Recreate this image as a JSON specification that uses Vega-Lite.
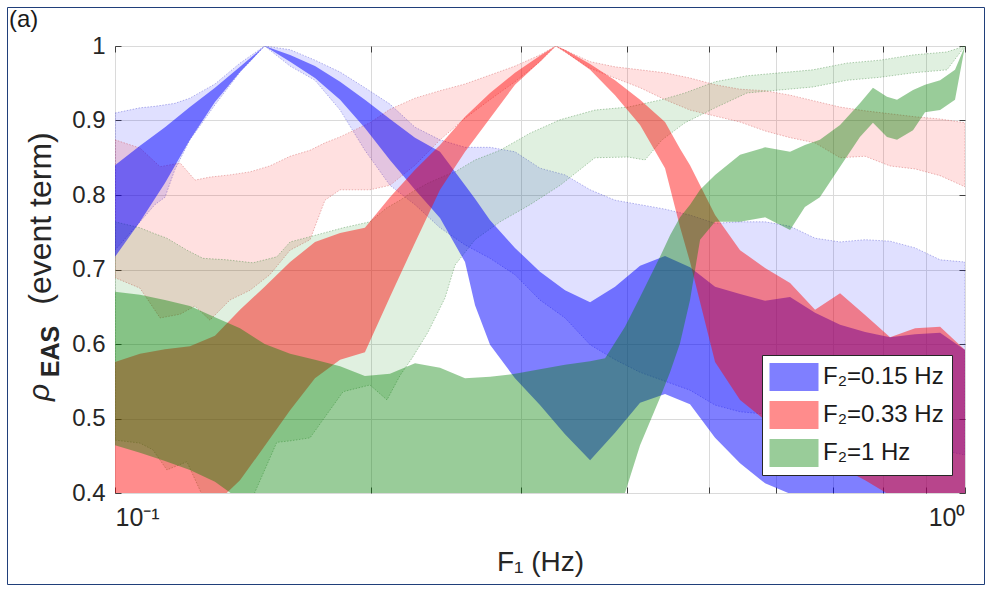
{
  "$schema": "https://vega.github.io/schema/vega-lite/v6.json",
  "width": 850,
  "height": 447,
  "autosize": {"type": "none"},
  "padding": {"left": 115, "top": 46, "right": 22, "bottom": 96},
  "background": "white",
  "config": {
    "font": "Liberation Sans",
    "view": {"stroke": "#8c8c8c", "strokeWidth": 1},
    "legend": {"gradientHorizontalMaxLength": 1200, "gradientHorizontalMinLength": 10},
    "axis": {
      "labelFont": "Liberation Sans",
      "titleFont": "Liberation Sans",
      "labelColor": "#262626",
      "titleColor": "#262626",
      "tickColor": "#404040",
      "domain": false,
      "gridColor": "#dadada",
      "gridWidth": 1,
      "labelFontSize": 24,
      "titleFontWeight": "normal"
    }
  },
  "title": {
    "text": "(a)",
    "anchor": "start",
    "frame": "group",
    "orient": "top",
    "fontSize": 24,
    "fontWeight": "normal",
    "color": "#1a1a1a",
    "dx": -106,
    "dy": 44,
    "offset": 0,
    "baseline": "alphabetic"
  },
  "datasets": {
    "d": [
      {"b":"SB","f":0.1,"hi":0.84,"lo":0.717},
      {"b":"SB","f":0.107,"hi":0.866,"lo":0.764},
      {"b":"SB","f":0.1145,"hi":0.891,"lo":0.816},
      {"b":"SB","f":0.1225,"hi":0.918,"lo":0.874},
      {"b":"SB","f":0.1311,"hi":0.944,"lo":0.925},
      {"b":"SB","f":0.1403,"hi":0.972,"lo":0.965},
      {"b":"SB","f":0.15,"hi":1,"lo":1},
      {"b":"SB","f":0.1607,"hi":0.988,"lo":0.979},
      {"b":"SB","f":0.1719,"hi":0.973,"lo":0.957},
      {"b":"SB","f":0.184,"hi":0.952,"lo":0.928},
      {"b":"SB","f":0.1968,"hi":0.928,"lo":0.89},
      {"b":"SB","f":0.2106,"hi":0.902,"lo":0.847},
      {"b":"SB","f":0.2254,"hi":0.877,"lo":0.807},
      {"b":"SB","f":0.2412,"hi":0.858,"lo":0.769},
      {"b":"SB","f":0.2581,"hi":0.813,"lo":0.71},
      {"b":"SB","f":0.2652,"hi":0.795,"lo":0.652},
      {"b":"SB","f":0.2762,"hi":0.766,"lo":0.599},
      {"b":"SB","f":0.2955,"hi":0.729,"lo":0.554},
      {"b":"SB","f":0.3162,"hi":0.697,"lo":0.518},
      {"b":"SB","f":0.3384,"hi":0.672,"lo":0.479},
      {"b":"SB","f":0.3622,"hi":0.656,"lo":0.444},
      {"b":"SB","f":0.3875,"hi":0.677,"lo":0.481},
      {"b":"SB","f":0.4147,"hi":0.705,"lo":0.521},
      {"b":"SB","f":0.4437,"hi":0.718,"lo":0.533},
      {"b":"SB","f":0.4748,"hi":0.703,"lo":0.519},
      {"b":"SB","f":0.5081,"hi":0.677,"lo":0.474},
      {"b":"SB","f":0.5437,"hi":0.667,"lo":0.44},
      {"b":"SB","f":0.5818,"hi":0.658,"lo":0.413},
      {"b":"SB","f":0.6226,"hi":0.663,"lo":0.399},
      {"b":"SB","f":0.6662,"hi":0.642,"lo":0.391},
      {"b":"SB","f":0.7129,"hi":0.626,"lo":0.384},
      {"b":"SB","f":0.7629,"hi":0.616,"lo":0.377},
      {"b":"SB","f":0.8163,"hi":0.609,"lo":0.37},
      {"b":"SB","f":0.8736,"hi":0.613,"lo":0.366},
      {"b":"SB","f":0.9348,"hi":0.615,"lo":0.364},
      {"b":"SB","f":1,"hi":0.592,"lo":0.357},

      {"b":"FB","f":0.1,"hi":0.91,"lo":0.726},
      {"b":"FB","f":0.107,"hi":0.917,"lo":0.764},
      {"b":"FB","f":0.1114,"hi":0.919,"lo":0.787},
      {"b":"FB","f":0.1145,"hi":0.921,"lo":0.797},
      {"b":"FB","f":0.1176,"hi":0.923,"lo":0.834},
      {"b":"FB","f":0.1225,"hi":0.93,"lo":0.874},
      {"b":"FB","f":0.1311,"hi":0.949,"lo":0.921},
      {"b":"FB","f":0.1403,"hi":0.977,"lo":0.965},
      {"b":"FB","f":0.15,"hi":1,"lo":1},
      {"b":"FB","f":0.1607,"hi":0.995,"lo":0.973},
      {"b":"FB","f":0.1719,"hi":0.981,"lo":0.954},
      {"b":"FB","f":0.184,"hi":0.965,"lo":0.914},
      {"b":"FB","f":0.1968,"hi":0.944,"lo":0.86},
      {"b":"FB","f":0.2106,"hi":0.922,"lo":0.813},
      {"b":"FB","f":0.2254,"hi":0.891,"lo":0.787},
      {"b":"FB","f":0.2412,"hi":0.874,"lo":0.756},
      {"b":"FB","f":0.2581,"hi":0.864,"lo":0.733},
      {"b":"FB","f":0.2762,"hi":0.864,"lo":0.715},
      {"b":"FB","f":0.2955,"hi":0.858,"lo":0.693},
      {"b":"FB","f":0.3162,"hi":0.836,"lo":0.659},
      {"b":"FB","f":0.3384,"hi":0.827,"lo":0.635},
      {"b":"FB","f":0.3622,"hi":0.807,"lo":0.599},
      {"b":"FB","f":0.3875,"hi":0.793,"lo":0.579},
      {"b":"FB","f":0.4147,"hi":0.787,"lo":0.562},
      {"b":"FB","f":0.4437,"hi":0.781,"lo":0.55},
      {"b":"FB","f":0.4748,"hi":0.773,"lo":0.538},
      {"b":"FB","f":0.5081,"hi":0.762,"lo":0.518},
      {"b":"FB","f":0.5437,"hi":0.764,"lo":0.509},
      {"b":"FB","f":0.5818,"hi":0.764,"lo":0.506},
      {"b":"FB","f":0.6226,"hi":0.758,"lo":0.498},
      {"b":"FB","f":0.6662,"hi":0.742,"lo":0.487},
      {"b":"FB","f":0.7129,"hi":0.737,"lo":0.482},
      {"b":"FB","f":0.7629,"hi":0.74,"lo":0.474},
      {"b":"FB","f":0.8163,"hi":0.738,"lo":0.468},
      {"b":"FB","f":0.8736,"hi":0.729,"lo":0.463},
      {"b":"FB","f":0.9348,"hi":0.713,"lo":0.458},
      {"b":"FB","f":1,"hi":0.71,"lo":0.451},

      {"b":"SR","f":0.1,"hi":0.576,"lo":0.35},
      {"b":"SR","f":0.107,"hi":0.587,"lo":0.355},
      {"b":"SR","f":0.1145,"hi":0.593,"lo":0.36},
      {"b":"SR","f":0.1225,"hi":0.597,"lo":0.37},
      {"b":"SR","f":0.1311,"hi":0.611,"lo":0.385},
      {"b":"SR","f":0.1403,"hi":0.646,"lo":0.417},
      {"b":"SR","f":0.15,"hi":0.677,"lo":0.463},
      {"b":"SR","f":0.1607,"hi":0.71,"lo":0.511},
      {"b":"SR","f":0.1719,"hi":0.737,"lo":0.554},
      {"b":"SR","f":0.184,"hi":0.749,"lo":0.579},
      {"b":"SR","f":0.1968,"hi":0.756,"lo":0.589},
      {"b":"SR","f":0.2106,"hi":0.797,"lo":0.663},
      {"b":"SR","f":0.2254,"hi":0.834,"lo":0.736},
      {"b":"SR","f":0.2412,"hi":0.867,"lo":0.807},
      {"b":"SR","f":0.2581,"hi":0.905,"lo":0.858},
      {"b":"SR","f":0.2762,"hi":0.937,"lo":0.903},
      {"b":"SR","f":0.2955,"hi":0.964,"lo":0.948},
      {"b":"SR","f":0.3162,"hi":0.987,"lo":0.979},
      {"b":"SR","f":0.33,"hi":1,"lo":1},
      {"b":"SR","f":0.3384,"hi":0.995,"lo":0.992},
      {"b":"SR","f":0.3622,"hi":0.976,"lo":0.968},
      {"b":"SR","f":0.3875,"hi":0.954,"lo":0.934},
      {"b":"SR","f":0.4147,"hi":0.928,"lo":0.894},
      {"b":"SR","f":0.4437,"hi":0.898,"lo":0.836},
      {"b":"SR","f":0.4621,"hi":0.862,"lo":0.757},
      {"b":"SR","f":0.4748,"hi":0.84,"lo":0.71},
      {"b":"SR","f":0.5081,"hi":0.773,"lo":0.576},
      {"b":"SR","f":0.5437,"hi":0.726,"lo":0.525},
      {"b":"SR","f":0.5818,"hi":0.702,"lo":0.498},
      {"b":"SR","f":0.6226,"hi":0.682,"lo":0.478},
      {"b":"SR","f":0.6662,"hi":0.646,"lo":0.455},
      {"b":"SR","f":0.7129,"hi":0.668,"lo":0.435},
      {"b":"SR","f":0.7629,"hi":0.639,"lo":0.417},
      {"b":"SR","f":0.8163,"hi":0.609,"lo":0.397},
      {"b":"SR","f":0.8736,"hi":0.621,"lo":0.384},
      {"b":"SR","f":0.9348,"hi":0.623,"lo":0.374},
      {"b":"SR","f":1,"hi":0.592,"lo":0.364},

      {"b":"FR","f":0.1,"hi":0.874,"lo":0.689},
      {"b":"FR","f":0.107,"hi":0.863,"lo":0.675},
      {"b":"FR","f":0.113,"hi":0.838,"lo":0.635},
      {"b":"FR","f":0.1193,"hi":0.843,"lo":0.64},
      {"b":"FR","f":0.1242,"hi":0.82,"lo":0.651},
      {"b":"FR","f":0.1293,"hi":0.824,"lo":0.632},
      {"b":"FR","f":0.1365,"hi":0.827,"lo":0.659},
      {"b":"FR","f":0.1441,"hi":0.831,"lo":0.672},
      {"b":"FR","f":0.1521,"hi":0.839,"lo":0.693},
      {"b":"FR","f":0.1607,"hi":0.852,"lo":0.726},
      {"b":"FR","f":0.1696,"hi":0.86,"lo":0.74},
      {"b":"FR","f":0.1766,"hi":0.87,"lo":0.793},
      {"b":"FR","f":0.184,"hi":0.878,"lo":0.807},
      {"b":"FR","f":0.1995,"hi":0.897,"lo":0.807},
      {"b":"FR","f":0.2106,"hi":0.915,"lo":0.813},
      {"b":"FR","f":0.2254,"hi":0.93,"lo":0.84},
      {"b":"FR","f":0.2412,"hi":0.94,"lo":0.874},
      {"b":"FR","f":0.2581,"hi":0.949,"lo":0.903},
      {"b":"FR","f":0.2762,"hi":0.961,"lo":0.928},
      {"b":"FR","f":0.2955,"hi":0.973,"lo":0.952},
      {"b":"FR","f":0.3162,"hi":0.988,"lo":0.979},
      {"b":"FR","f":0.33,"hi":1,"lo":1},
      {"b":"FR","f":0.3622,"hi":0.979,"lo":0.97},
      {"b":"FR","f":0.3875,"hi":0.972,"lo":0.957},
      {"b":"FR","f":0.4147,"hi":0.968,"lo":0.944},
      {"b":"FR","f":0.4437,"hi":0.964,"lo":0.928},
      {"b":"FR","f":0.4748,"hi":0.957,"lo":0.914},
      {"b":"FR","f":0.5081,"hi":0.948,"lo":0.906},
      {"b":"FR","f":0.5437,"hi":0.942,"lo":0.898},
      {"b":"FR","f":0.5818,"hi":0.94,"lo":0.886},
      {"b":"FR","f":0.6226,"hi":0.934,"lo":0.877},
      {"b":"FR","f":0.6662,"hi":0.926,"lo":0.87},
      {"b":"FR","f":0.7129,"hi":0.918,"lo":0.85},
      {"b":"FR","f":0.7629,"hi":0.913,"lo":0.852},
      {"b":"FR","f":0.8163,"hi":0.909,"lo":0.839},
      {"b":"FR","f":0.8736,"hi":0.905,"lo":0.835},
      {"b":"FR","f":0.9348,"hi":0.902,"lo":0.826},
      {"b":"FR","f":1,"hi":0.897,"lo":0.811},

      {"b":"SG","f":0.1,"hi":0.67,"lo":0.464},
      {"b":"SG","f":0.107,"hi":0.666,"lo":0.454},
      {"b":"SG","f":0.1145,"hi":0.659,"lo":0.443},
      {"b":"SG","f":0.1225,"hi":0.651,"lo":0.431},
      {"b":"SG","f":0.1311,"hi":0.636,"lo":0.415},
      {"b":"SG","f":0.1403,"hi":0.621,"lo":0.391},
      {"b":"SG","f":0.15,"hi":0.6,"lo":0.37},
      {"b":"SG","f":0.1607,"hi":0.587,"lo":0.35},
      {"b":"SG","f":0.1719,"hi":0.579,"lo":0.34},
      {"b":"SG","f":0.184,"hi":0.57,"lo":0.33},
      {"b":"SG","f":0.1968,"hi":0.557,"lo":0.33},
      {"b":"SG","f":0.2106,"hi":0.56,"lo":0.33},
      {"b":"SG","f":0.2254,"hi":0.574,"lo":0.33},
      {"b":"SG","f":0.2412,"hi":0.568,"lo":0.33},
      {"b":"SG","f":0.2581,"hi":0.554,"lo":0.33},
      {"b":"SG","f":0.2762,"hi":0.556,"lo":0.33},
      {"b":"SG","f":0.2955,"hi":0.56,"lo":0.33},
      {"b":"SG","f":0.3162,"hi":0.566,"lo":0.34},
      {"b":"SG","f":0.3384,"hi":0.572,"lo":0.35},
      {"b":"SG","f":0.3622,"hi":0.577,"lo":0.37},
      {"b":"SG","f":0.3772,"hi":0.581,"lo":0.38},
      {"b":"SG","f":0.3981,"hi":0.623,"lo":0.4},
      {"b":"SG","f":0.4147,"hi":0.663,"lo":0.464},
      {"b":"SG","f":0.4377,"hi":0.717,"lo":0.528},
      {"b":"SG","f":0.4498,"hi":0.746,"lo":0.562},
      {"b":"SG","f":0.4621,"hi":0.77,"lo":0.601},
      {"b":"SG","f":0.4748,"hi":0.787,"lo":0.659},
      {"b":"SG","f":0.4879,"hi":0.807,"lo":0.74},
      {"b":"SG","f":0.5081,"hi":0.827,"lo":0.764},
      {"b":"SG","f":0.5437,"hi":0.854,"lo":0.764},
      {"b":"SG","f":0.5818,"hi":0.864,"lo":0.77},
      {"b":"SG","f":0.6226,"hi":0.858,"lo":0.753},
      {"b":"SG","f":0.6481,"hi":0.867,"lo":0.784},
      {"b":"SG","f":0.6749,"hi":0.874,"lo":0.797},
      {"b":"SG","f":0.7129,"hi":0.894,"lo":0.838},
      {"b":"SG","f":0.7523,"hi":0.923,"lo":0.878},
      {"b":"SG","f":0.7793,"hi":0.944,"lo":0.897},
      {"b":"SG","f":0.8095,"hi":0.932,"lo":0.878},
      {"b":"SG","f":0.8318,"hi":0.928,"lo":0.874},
      {"b":"SG","f":0.8687,"hi":0.941,"lo":0.887},
      {"b":"SG","f":0.8974,"hi":0.948,"lo":0.911},
      {"b":"SG","f":0.9348,"hi":0.954,"lo":0.914},
      {"b":"SG","f":0.9733,"hi":0.968,"lo":0.928},
      {"b":"SG","f":1,"hi":1,"lo":1},

      {"b":"FG","f":0.1,"hi":0.764,"lo":0.471},
      {"b":"FG","f":0.107,"hi":0.756,"lo":0.467},
      {"b":"FG","f":0.1108,"hi":0.749,"lo":0.458},
      {"b":"FG","f":0.1151,"hi":0.742,"lo":0.431},
      {"b":"FG","f":0.1215,"hi":0.726,"lo":0.442},
      {"b":"FG","f":0.1269,"hi":0.715,"lo":0.395},
      {"b":"FG","f":0.1354,"hi":0.713,"lo":0.385},
      {"b":"FG","f":0.1453,"hi":0.709,"lo":0.395},
      {"b":"FG","f":0.155,"hi":0.717,"lo":0.468},
      {"b":"FG","f":0.1607,"hi":0.737,"lo":0.47},
      {"b":"FG","f":0.1696,"hi":0.744,"lo":0.474},
      {"b":"FG","f":0.1855,"hi":0.756,"lo":0.536},
      {"b":"FG","f":0.1995,"hi":0.764,"lo":0.545},
      {"b":"FG","f":0.2089,"hi":0.783,"lo":0.525},
      {"b":"FG","f":0.2165,"hi":0.793,"lo":0.558},
      {"b":"FG","f":0.2236,"hi":0.804,"lo":0.581},
      {"b":"FG","f":0.2335,"hi":0.816,"lo":0.616},
      {"b":"FG","f":0.2445,"hi":0.826,"lo":0.662},
      {"b":"FG","f":0.2512,"hi":0.831,"lo":0.706},
      {"b":"FG","f":0.2652,"hi":0.847,"lo":0.74},
      {"b":"FG","f":0.2838,"hi":0.86,"lo":0.764},
      {"b":"FG","f":0.3078,"hi":0.883,"lo":0.787},
      {"b":"FG","f":0.3339,"hi":0.901,"lo":0.813},
      {"b":"FG","f":0.367,"hi":0.914,"lo":0.85},
      {"b":"FG","f":0.4014,"hi":0.918,"lo":0.851},
      {"b":"FG","f":0.4203,"hi":0.923,"lo":0.847},
      {"b":"FG","f":0.4401,"hi":0.928,"lo":0.874},
      {"b":"FG","f":0.4684,"hi":0.937,"lo":0.897},
      {"b":"FG","f":0.5081,"hi":0.952,"lo":0.917},
      {"b":"FG","f":0.5541,"hi":0.96,"lo":0.937},
      {"b":"FG","f":0.6058,"hi":0.964,"lo":0.941},
      {"b":"FG","f":0.6622,"hi":0.968,"lo":0.945},
      {"b":"FG","f":0.7262,"hi":0.977,"lo":0.954},
      {"b":"FG","f":0.7943,"hi":0.981,"lo":0.958},
      {"b":"FG","f":0.8687,"hi":0.988,"lo":0.964},
      {"b":"FG","f":0.9524,"hi":0.992,"lo":0.968},
      {"b":"FG","f":1,"hi":1,"lo":1}
    ]
  },
  "data": {"name": "d"},
  "layer": [
    {
      "transform": [{"filter": "datum.b == 'FB'"}],
      "mark": {"type": "area", "clip": true, "fill": "rgba(0,0,255,0.12)", "stroke": "rgba(50,50,200,0.45)", "strokeWidth": 0.8, "strokeDash": [1.5, 1.5]},
      "encoding": {
        "x": {"field": "f", "type": "quantitative", "scale": {"type": "log", "domain": [0.1, 1], "nice": false},
          "axis": {"orient": "bottom", "values": [0.1,0.2,0.3,0.4,0.5,0.6,0.7,0.8,0.9,1],
            "labelExpr": "datum.value == 0.1 ? '10⁻¹' : (datum.value == 1 ? '10⁰' : '')",
            "grid": true, "tickSize": -6, "labelPadding": 18, "labelOverlap": false, "labelFontSize": 25,
            "title": "F₁ (Hz)", "titleFontSize": 28, "titleX": 425, "titleY": 77, "titleBaseline": "alphabetic"}},
        "y": {"field": "hi", "type": "quantitative", "scale": {"domain": [0.4, 1], "nice": false, "zero": false},
          "axis": {"orient": "left", "values": [0.4,0.5,0.6,0.7,0.8,0.9,1],
            "labelExpr": "datum.value == 1 ? '1' : format(datum.value, '.1f')",
            "grid": true, "tickSize": -6, "labelPadding": 16, "labelOverlap": false,
            "title": "(event term)", "titleFontSize": 32, "titleX": -65, "titleY": 172, "titleAngle": 270, "titleBaseline": "alphabetic"}},
        "y2": {"field": "lo"}
      }
    },
    {
      "transform": [{"filter": "datum.b == 'FR'"}],
      "mark": {"type": "area", "clip": true, "fill": "rgba(255,0,0,0.12)", "stroke": "rgba(200,60,60,0.45)", "strokeWidth": 0.8, "strokeDash": [1.5, 1.5]},
      "encoding": {
        "x": {"field": "f", "type": "quantitative", "scale": {"type": "log", "domain": [0.1, 1], "nice": false},
          "axis": {"orient": "top", "values": [0.1,0.2,0.3,0.4,0.5,0.6,0.7,0.8,0.9,1], "labels": false, "grid": false, "tickSize": -6, "title": null}},
        "y": {"field": "hi", "type": "quantitative", "scale": {"domain": [0.4, 1], "nice": false, "zero": false},
          "axis": {"orient": "right", "values": [0.4,0.5,0.6,0.7,0.8,0.9,1], "labels": false, "grid": false, "tickSize": -6, "title": null}},
        "y2": {"field": "lo"}
      }
    },
    {
      "transform": [{"filter": "datum.b == 'FG'"}],
      "mark": {"type": "area", "clip": true, "fill": "rgba(0,128,0,0.12)", "stroke": "rgba(40,120,40,0.45)", "strokeWidth": 0.8, "strokeDash": [1.5, 1.5]},
      "encoding": {
        "x": {"field": "f", "type": "quantitative", "scale": {"type": "log", "domain": [0.1, 1], "nice": false}, "axis": null},
        "y": {"field": "hi", "type": "quantitative", "scale": {"domain": [0.4, 1], "nice": false, "zero": false},
          "axis": {"orient": "left", "labels": false, "ticks": false, "grid": false,
            "title": "ρ", "titleFontSize": 30, "titleFontStyle": "italic", "titleX": -67, "titleY": 346, "titleAngle": 270, "titleBaseline": "alphabetic"}},
        "y2": {"field": "lo"}
      }
    },
    {
      "transform": [{"filter": "datum.b == 'SB'"}],
      "mark": {"type": "area", "clip": true, "strokeWidth": 0, "invalid": null},
      "encoding": {
        "x": {"field": "f", "type": "quantitative", "scale": {"type": "log", "domain": [0.1, 1], "nice": false}, "axis": null},
        "y": {"field": "hi", "type": "quantitative", "scale": {"domain": [0.4, 1], "nice": false, "zero": false},
          "axis": {"orient": "left", "labels": false, "ticks": false, "grid": false,
            "title": "EAS", "titleFontSize": 25, "titleFontWeight": "bold", "titleX": -57, "titleY": 305, "titleAngle": 270, "titleBaseline": "alphabetic"}},
        "y2": {"field": "lo"},
        "fill": {"field": "b", "type": "nominal",
          "scale": {"domain": ["SB", "SR", "SG"], "range": ["rgba(0,0,255,0.5)", "rgba(255,0,0,0.45)", "rgba(0,128,0,0.4)"]},
          "legend": {"orient": "none", "legendX": 647, "legendY": 309, "title": null,
            "labelExpr": "datum.label == 'SB' ? 'F₂=0.15 Hz' : (datum.label == 'SR' ? 'F₂=0.33 Hz' : 'F₂=1 Hz')",
            "symbolType": "M-1.75,-1H1.75V1H-1.75Z", "symbolSize": 784, "symbolStrokeWidth": 0, "symbolOffset": 10,
            "labelFontSize": 24, "labelColor": "#1a1a1a", "labelOffset": 15, "labelLimit": 400,
            "strokeColor": "#262626", "fillColor": "white", "padding": 8, "rowPadding": 10}},
        "stroke": {"field": "b", "type": "quantitative",
          "scale": {"type": "linear", "domain": [0, 1], "range": ["rgba(0,0,0,0)", "rgba(0,0,0,0)"]},
          "legend": {"type": "gradient", "direction": "horizontal", "orient": "none", "legendX": -108, "legendY": -39,
            "gradientLength": 977, "gradientThickness": 576, "gradientStrokeWidth": 0, "title": null,
            "padding": 0, "strokeColor": "#203f7a", "labelFontSize": 1, "labelOpacity": 0, "labelOffset": 0}}
      }
    },
    {
      "transform": [{"filter": "datum.b == 'SR'"}],
      "mark": {"type": "area", "clip": true},
      "encoding": {
        "x": {"field": "f", "type": "quantitative", "scale": {"type": "log", "domain": [0.1, 1], "nice": false}, "axis": null},
        "y": {"field": "hi", "type": "quantitative", "scale": {"domain": [0.4, 1], "nice": false, "zero": false}, "axis": null},
        "y2": {"field": "lo"},
        "fill": {"field": "b", "type": "nominal"}
      }
    },
    {
      "transform": [{"filter": "datum.b == 'SG'"}],
      "mark": {"type": "area", "clip": true},
      "encoding": {
        "x": {"field": "f", "type": "quantitative", "scale": {"type": "log", "domain": [0.1, 1], "nice": false}, "axis": null},
        "y": {"field": "hi", "type": "quantitative", "scale": {"domain": [0.4, 1], "nice": false, "zero": false}, "axis": null},
        "y2": {"field": "lo"},
        "fill": {"field": "b", "type": "nominal"}
      }
    }
  ],
  "resolve": {"axis": {"x": "independent", "y": "independent"}}
}
